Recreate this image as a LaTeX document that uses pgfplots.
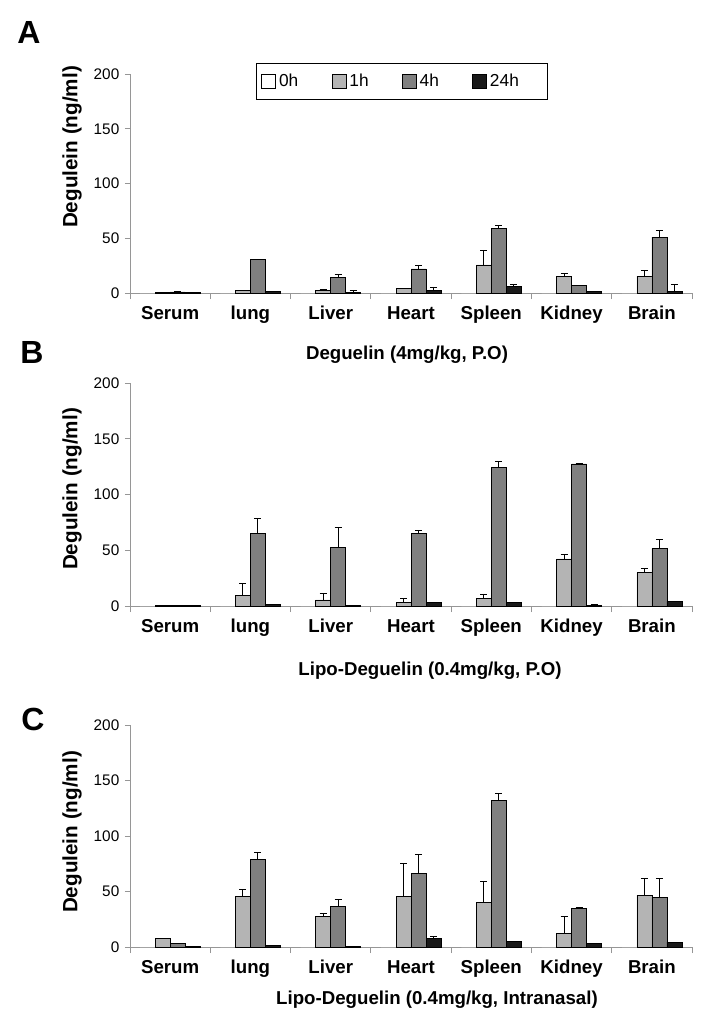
\documentclass[border=0pt]{standalone}
\usepackage{fontspec}
\setmainfont{Liberation Sans}
\usepackage{pgfplots}
\pgfplotsset{compat=1.18}
\usepackage{pgfplotstable}
\definecolor{c1}{RGB}{180,180,180}
\definecolor{c4}{RGB}{128,128,128}
\definecolor{c24}{RGB}{25,25,25}
\definecolor{axgray}{RGB}{150,150,150}
\newlength\pxu
\setlength{\pxu}{0.75pt}

\pgfplotstableread{
x h0 h1 e1 h4 e4 h24 e24
0 0 0.3 0 1.0 0 0.3 0
1 0 2.4 0 31 0 1.2 0
2 0 2 1.3 14.6 2.1 0.3 2.1
3 0 4 0.3 22 3.6 2.4 3.1
4 0 25.6 13.4 58.8 3.2 5.8 2.4
5 0 15.5 2.2 6.7 0 1.2 0
6 0 15.5 5.5 51 6.5 1.2 6.7
}\dataA
\pgfplotstableread{
x h0 h1 e1 h4 e4 h24 e24
0 0 0.3 0 0.3 0 0.3 0
1 0 9.6 10.8 65.3 13.4 1.5 0
2 0 5.4 5.6 52.7 18 0.3 0
3 0 3.3 3.6 65.3 2.7 3 0
4 0 6.9 3.9 124.6 5.4 3 0
5 0 42.2 4.2 127.5 0 0.3 0.9
6 0 30 3.8 51.5 8.5 4.2 0
}\dataB
\pgfplotstableread{
x h0 h1 e1 h4 e4 h24 e24
0 0 7.5 0 3.6 0 0.3 0
1 0 45.9 6.3 79.2 6.3 1.2 0
2 0 27.6 3 36.3 6.6 0.3 0
3 0 45.9 29.1 66 17.7 7.5 2.4
4 0 40.5 18.3 132 6.2 5.1 0
5 0 12.6 15 34.8 0.6 3 0.6
6 0 46.8 15 44.4 17.4 4.5 0
}\dataC

\pgfplotsset{
  panel/.style={
    scale only axis,
    width=562\pxu,
    anchor=south west,
    ybar=0pt,
    bar width=15\pxu,
    xmin=-0.5, xmax=6.5,
    ymin=0, ymax=200,
    ytick={0,50,100,150,200},
    xtick={0,...,6},
    xticklabels={Serum,lung,Liver,Heart,Spleen,Kidney,Brain},
    minor xtick={-0.5,0.5,...,6.5},
    major x tick style={draw=none},
    minor x tick style={draw=axgray, line width=0.6pt},
    y tick style={draw=axgray, line width=0.6pt},
    minor tick length=6\pxu,
    major tick length=5\pxu,
    tick align=outside,
    axis x line*=bottom,
    axis y line*=left,
    axis line style={draw=axgray, line width=0.6pt, -},
    /pgf/number format/assume math mode=true,
    y tick label style={font=\fontsize{11.5}{13}\selectfont, xshift=-1\pxu},
    x tick label style={font=\bfseries\fontsize{14}{16}\selectfont, text height=10.5pt, text depth=3pt, yshift=-3\pxu},
    clip=false,
    legend image code/.code={\draw[##1,draw=black,line width=0.6pt] (0pt,-5.25pt) rectangle (10.5pt,5.25pt);},
    error bars/y dir=plus,
    error bars/y explicit,
    error bars/error bar style={black, line width=0.7pt},
    error bars/error mark options={rotate=90, black, line width=0.7pt, mark size=2.6pt},
  },
  s0/.style={fill=white, draw=none},
  s1/.style={fill=c1, draw=black, line width=0.5pt},
  s4/.style={fill=c4, draw=black, line width=0.5pt},
  s24/.style={fill=c24, draw=black, line width=0.5pt},
}

\begin{document}
\begin{tikzpicture}
\useasboundingbox (0,0) rectangle (701\pxu,-1025\pxu);

% Panel A
\begin{axis}[panel, at={(130\pxu,-293\pxu)}, height=219\pxu,
  legend columns=4,
  legend style={at={(0.224,1.050)}, anchor=north west, draw=black, line width=0.6pt,
    font=\fontsize{13}{15}\selectfont, inner xsep=5\pxu, inner ysep=8\pxu,
    nodes={text width=49.5\pxu, align=left, inner xsep=3\pxu}},
]
\addplot[s0] table[x=x,y=h0]{\dataA};
\addplot[s1] table[x=x,y=h1,y error=e1]{\dataA};
\addplot[s4] table[x=x,y=h4,y error=e4]{\dataA};
\addplot[s24] table[x=x,y=h24,y error=e24]{\dataA};
\legend{0h,1h,4h,24h}
\end{axis}

% Panel B
\begin{axis}[panel, at={(130\pxu,-606\pxu)}, height=223\pxu]
\addplot[s0] table[x=x,y=h0]{\dataB};
\addplot[s1] table[x=x,y=h1,y error=e1]{\dataB};
\addplot[s4] table[x=x,y=h4,y error=e4]{\dataB};
\addplot[s24] table[x=x,y=h24,y error=e24]{\dataB};
\end{axis}

% Panel C
\begin{axis}[panel, at={(130\pxu,-947\pxu)}, height=222\pxu]
\addplot[s0] table[x=x,y=h0]{\dataC};
\addplot[s1] table[x=x,y=h1,y error=e1]{\dataC};
\addplot[s4] table[x=x,y=h4,y error=e4]{\dataC};
\addplot[s24] table[x=x,y=h24,y error=e24]{\dataC};
\end{axis}

% Panel letters
\node[font=\bfseries\fontsize{24}{28}\selectfont] at (29\pxu,-32\pxu) {A};
\node[font=\bfseries\fontsize{24}{28}\selectfont] at (32\pxu,-352\pxu) {B};
\node[font=\bfseries\fontsize{24}{28}\selectfont] at (33\pxu,-719\pxu) {C};

% Y labels
\node[rotate=90, font=\bfseries\fontsize{15.5}{18}\selectfont] at (72\pxu,-147\pxu) {Degulein (ng/ml)};
\node[rotate=90, font=\bfseries\fontsize{15.5}{18}\selectfont] at (72\pxu,-489\pxu) {Degulein (ng/ml)};
\node[rotate=90, font=\bfseries\fontsize{15.5}{18}\selectfont] at (72\pxu,-832\pxu) {Degulein (ng/ml)};

% Titles
\node[font=\bfseries\fontsize{14}{16}\selectfont] at (407\pxu,-355\pxu) {Deguelin (4mg/kg, P.O)};
\node[font=\bfseries\fontsize{14}{16}\selectfont] at (430\pxu,-671\pxu) {Lipo-Deguelin (0.4mg/kg, P.O)};
\node[font=\bfseries\fontsize{14}{16}\selectfont] at (437\pxu,-1000\pxu) {Lipo-Deguelin (0.4mg/kg, Intranasal)};
\end{tikzpicture}
\end{document}
